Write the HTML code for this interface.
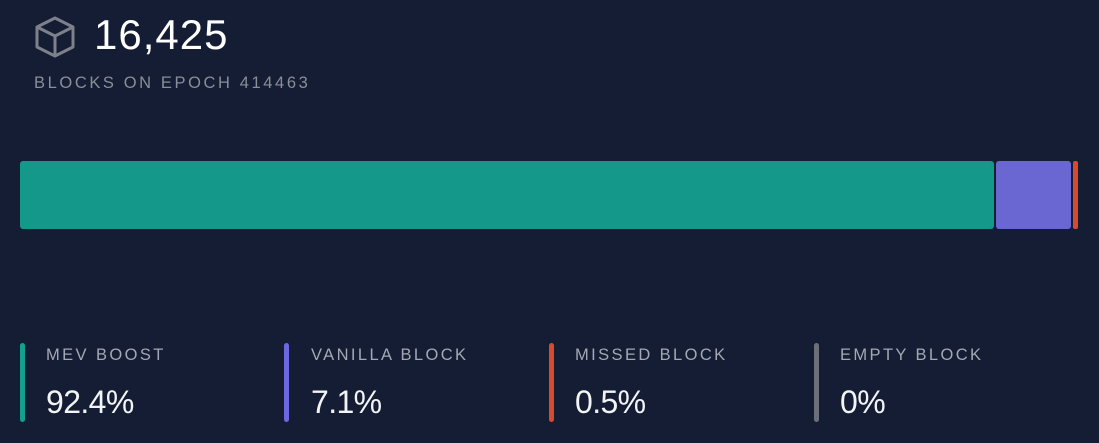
<!DOCTYPE html>
<html><head><meta charset="utf-8"><style>
body{margin:0;width:1099px;height:443px;background:#141d33;font-family:"Liberation Sans",sans-serif;position:relative;overflow:hidden}
.a{position:absolute}
.lab{color:#a3a8b4;font-size:16.5px;letter-spacing:2.4px;white-space:nowrap}
.val{color:#f3f4f6;font-size:32px;white-space:nowrap;letter-spacing:-0.6px}
.ln{width:5px;height:79px;top:343px;border-radius:3px}
</style></head><body>
<svg class="a" style="left:33px;top:15px" width="44" height="44" viewBox="0 0 44 44">
<g fill="none" stroke="#7d818b" stroke-width="3" stroke-linejoin="round">
<path d="M22 3 L40 12 L40 32 L22 41 L4 32 L4 12 Z"/><path d="M4 12 L22 21 L40 12 M22 21 L22 41"/></g></svg>
<div class="a" style="left:94px;top:11px;color:#fff;font-size:42px;letter-spacing:1px">16,425</div>
<div class="a lab" style="left:34px;top:74px;color:#8a8e99;letter-spacing:2.6px">BLOCKS ON EPOCH 414463</div>
<div class="a" style="left:20px;top:161px;width:974px;height:68px;background:#13988a;border-radius:3px"></div>
<div class="a" style="left:996px;top:161px;width:75px;height:68px;background:#6a67d3;border-radius:3px"></div>
<div class="a" style="left:1073px;top:161px;width:5px;height:68px;background:#d9492e;border-radius:2px"></div>
<div class="a ln" style="left:20px;background:#13a08f"></div>
<div class="a ln" style="left:284px;background:#6b68e0"></div>
<div class="a ln" style="left:549px;background:#d9492e"></div>
<div class="a ln" style="left:814px;background:#6b6f7a"></div>
<div class="a lab" style="left:46px;top:346px">MEV BOOST</div>
<div class="a lab" style="left:311px;top:346px">VANILLA BLOCK</div>
<div class="a lab" style="left:575px;top:346px">MISSED BLOCK</div>
<div class="a lab" style="left:840px;top:346px">EMPTY BLOCK</div>
<div class="a val" style="left:46px;top:384px">92.4%</div>
<div class="a val" style="left:311px;top:384px">7.1%</div>
<div class="a val" style="left:575px;top:384px">0.5%</div>
<div class="a val" style="left:840px;top:384px">0%</div>
</body></html>
